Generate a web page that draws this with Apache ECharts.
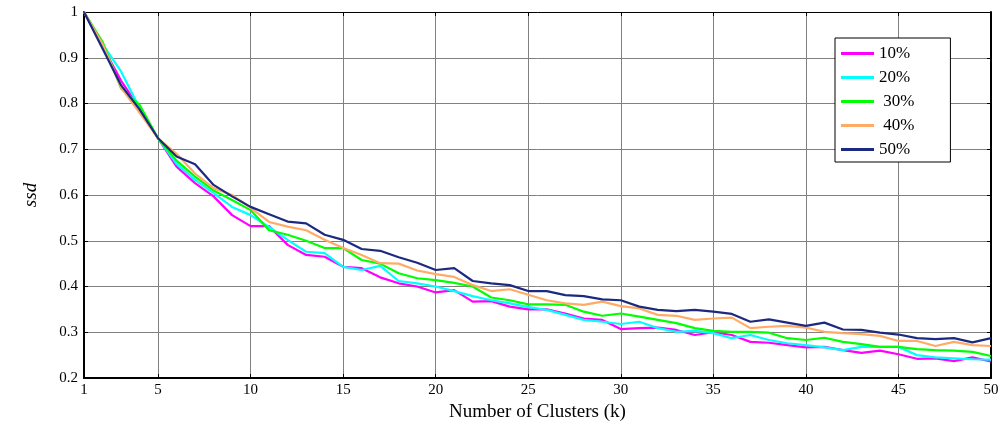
<!DOCTYPE html>
<html>
<head>
<meta charset="utf-8">
<script src="https://cdn.jsdelivr.net/npm/echarts@6/dist/echarts.min.js"></script>
<style>html,body{margin:0;padding:0;background:#fff}#c{width:1008px;height:429px}</style>
</head>
<body>
<div id="c"></div>
<script>
const kValues = Array.from({length: 50}, (_, i) => String(i + 1));
const seriesNames = ['10%', '20%', ' 30%', ' 40%', '50%'];
const s10 = [1.0,0.925,0.85,0.79,0.724,0.662,0.626,0.597,0.556,0.532,
  0.532,0.491,0.469,0.465,0.443,0.44,0.42,0.407,0.40,0.387,
  0.392,0.367,0.368,0.356,0.35,0.35,0.341,0.33,0.327,0.307,
  0.309,0.31,0.305,0.294,0.3,0.294,0.279,0.277,0.272,0.267,
  0.268,0.261,0.255,0.26,0.252,0.242,0.243,0.237,0.245,0.236];
const s20 = [1.0,0.93,0.87,0.79,0.724,0.668,0.633,0.604,0.574,0.556,
  0.53,0.502,0.476,0.473,0.443,0.436,0.445,0.412,0.407,0.40,
  0.39,0.379,0.37,0.363,0.355,0.349,0.338,0.327,0.323,0.318,
  0.323,0.309,0.301,0.303,0.298,0.287,0.294,0.283,0.276,0.272,
  0.267,0.261,0.268,0.268,0.268,0.25,0.245,0.243,0.241,0.24];
const s30 = [1.0,0.935,0.833,0.797,0.724,0.675,0.64,0.61,0.589,0.567,
  0.523,0.513,0.50,0.484,0.484,0.458,0.45,0.429,0.418,0.414,
  0.408,0.40,0.376,0.37,0.361,0.361,0.36,0.345,0.336,0.341,
  0.334,0.327,0.32,0.309,0.303,0.301,0.301,0.299,0.287,0.283,
  0.288,0.279,0.274,0.268,0.268,0.263,0.261,0.26,0.257,0.248];
const s40 = [1.0,0.93,0.835,0.78,0.724,0.69,0.647,0.615,0.60,0.572,
  0.541,0.531,0.523,0.502,0.484,0.469,0.451,0.45,0.435,0.427,
  0.421,0.403,0.39,0.394,0.382,0.37,0.363,0.36,0.367,0.357,
  0.352,0.338,0.336,0.327,0.33,0.332,0.309,0.312,0.314,0.31,
  0.301,0.298,0.296,0.292,0.281,0.281,0.27,0.279,0.272,0.27];
const s50 = [1.0,0.92,0.84,0.787,0.724,0.684,0.667,0.622,0.597,0.574,
  0.558,0.542,0.538,0.513,0.502,0.482,0.478,0.464,0.452,0.436,
  0.44,0.412,0.407,0.403,0.39,0.39,0.381,0.379,0.372,0.37,
  0.356,0.349,0.346,0.349,0.345,0.34,0.323,0.328,0.321,0.314,
  0.321,0.306,0.305,0.299,0.295,0.287,0.285,0.287,0.278,0.287];
const seriesData = [s10, s20, s30, s40, s50];
const colors = ['#ff00ff', '#00ffff', '#00ff00', '#ffab66', '#1b2a80'];

const FONT = 'Liberation Serif';
const showK = (idx, val) => { const v = Number(val); return v === 1 || v % 5 === 0; };
const gridK = (idx, val) => { const v = Number(val); return v % 5 === 0 && v !== 50; };

const chart = echarts.init(document.getElementById('c'), null, {renderer: 'canvas'});
chart.setOption({
  animation: false,
  backgroundColor: '#fff',
  grid: {left: 84, right: 17, top: 12, bottom: 51, containLabel: false},
  legend: {
    orient: 'vertical', left: 835, top: 38,
    padding: [7, 36, 4, 6], itemGap: 7, itemWidth: 33, itemHeight: 3,
    icon: 'rect',
    borderColor: '#000', borderWidth: 1, backgroundColor: '#fff',
    textStyle: {fontFamily: FONT, fontSize: 17, color: '#000'},
    data: seriesNames
  },
  xAxis: [{
    type: 'category', data: kValues, boundaryGap: false,
    name: 'Number of Clusters (k)', nameLocation: 'middle', nameGap: 22,
    nameTextStyle: {fontFamily: FONT, fontSize: 19, color: '#000'},
    axisLine: {lineStyle: {color: '#000', width: 2}},
    axisTick: {inside: true, length: 4, interval: showK, lineStyle: {color: '#000'}},
    axisLabel: {interval: showK, fontFamily: FONT, fontSize: 15, color: '#000', margin: 5},
    splitLine: {show: true, interval: gridK, lineStyle: {color: '#808080', width: 1}}
  }, {
    type: 'category', data: kValues, boundaryGap: false, position: 'top',
    axisLine: {lineStyle: {color: '#000', width: 1}},
    axisTick: {inside: true, length: 4, interval: showK, lineStyle: {color: '#000'}},
    axisLabel: {show: false}, splitLine: {show: false}
  }],
  yAxis: [{
    type: 'value', min: 0.2, max: 1, interval: 0.1,
    name: 'ssd', nameLocation: 'middle', nameGap: 44, nameRotate: 90,
    nameTextStyle: {fontFamily: FONT, fontSize: 19, fontStyle: 'italic', color: '#000'},
    axisLine: {show: true, lineStyle: {color: '#000', width: 2}},
    axisTick: {show: true, inside: true, length: 4, lineStyle: {color: '#000'}},
    axisLabel: {fontFamily: FONT, fontSize: 15, color: '#000', margin: 6},
    splitLine: {show: true, lineStyle: {color: '#808080', width: 1}}
  }, {
    type: 'value', min: 0.2, max: 1, interval: 0.1, position: 'right',
    axisLine: {show: true, lineStyle: {color: '#000', width: 2}},
    axisTick: {show: true, inside: true, length: 4, lineStyle: {color: '#000'}},
    axisLabel: {show: false}, splitLine: {show: false}
  }],
  series: seriesNames.map((n, i) => ({
    name: n, type: 'line', data: seriesData[i], symbol: 'none',
    xAxisIndex: 0, yAxisIndex: 0,
    lineStyle: {color: colors[i], width: 2.2}, itemStyle: {color: colors[i]}
  }))
});
</script>
</body>
</html>
